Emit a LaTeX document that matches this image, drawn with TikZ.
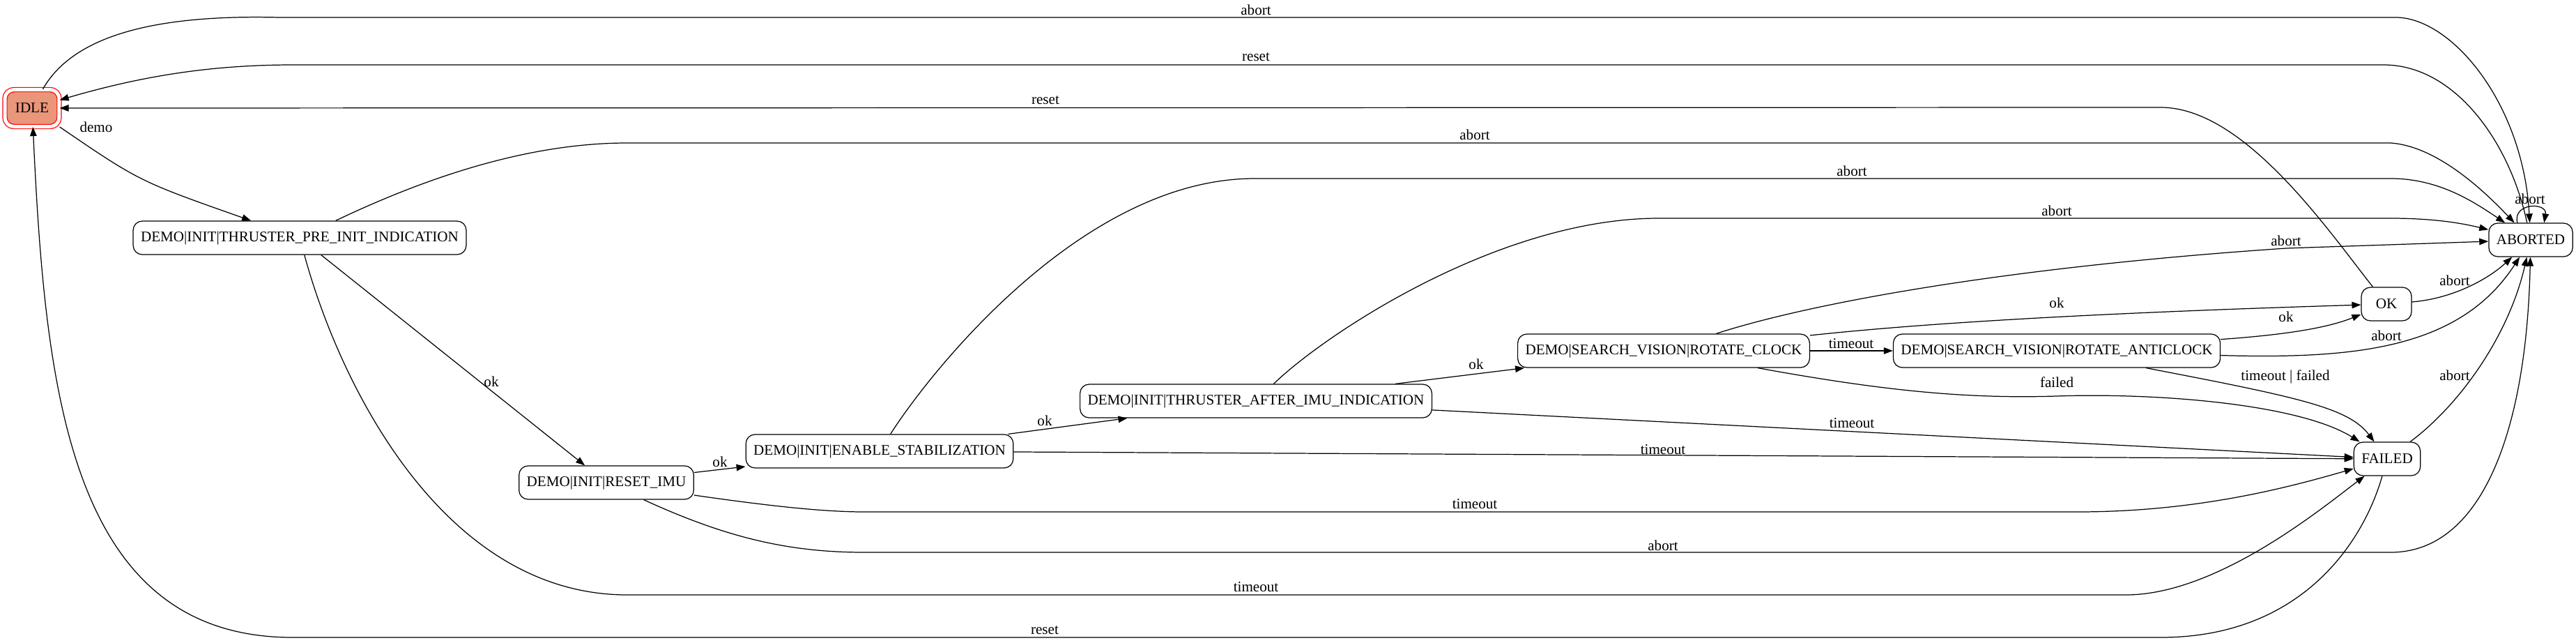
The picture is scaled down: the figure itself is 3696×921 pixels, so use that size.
\documentclass[tikz,border=0pt]{standalone}
\usepackage{fontspec}
\setmainfont{Liberation Serif}
\usepackage{tikz}
\usetikzlibrary{arrows.meta}

\definecolor{idlefill}{RGB}{233,150,122}

\begin{document}
\begin{tikzpicture}[x=0.02cm, y=-0.02cm,
  state/.style={draw, line width=0.7pt, rounded corners=0.26cm, minimum height=0.96cm,
    minimum width=1.44cm, inner xsep=0.22cm, font=\fontsize{12}{14}\selectfont},
  idlestate/.style={state, draw=red, double=white, double distance=0.1cm, fill=idlefill,
    minimum width=1.56cm, minimum height=1.06cm},
  edge/.style={-{Triangle[length=0.26cm,width=0.19cm]}, line width=0.7pt},
  lbl/.style={inner sep=0pt, font=\fontsize{12}{14}\selectfont}]
\useasboundingbox (0,0) rectangle (3696,921);

% states
\node[idlestate] (idle) at (46,155) {IDLE};
\node[state] (preinit) at (430,341) {DEMO|INIT|THRUSTER\_PRE\_INIT\_INDICATION};
\node[state] (resetimu) at (870,692) {DEMO|INIT|RESET\_IMU};
\node[state] (enablestab) at (1262,647) {DEMO|INIT|ENABLE\_STABILIZATION};
\node[state] (afterimu) at (1802,575) {DEMO|INIT|THRUSTER\_AFTER\_IMU\_INDICATION};
\node[state] (rotclock) at (2387,503) {DEMO|SEARCH\_VISION|ROTATE\_CLOCK};
\node[state] (rotanti) at (2951,503) {DEMO|SEARCH\_VISION|ROTATE\_ANTICLOCK};
\node[state] (ok) at (3424,436) {OK};
\node[state] (failed) at (3425,658) {FAILED};
\node[state] (aborted) at (3631,344) {ABORTED};

% long runs over the top
\draw[edge] (idle) .. controls (100,60) and (200,20) .. (400,25) -- (3440,25)
  .. controls (3520,28) and (3620,150) .. (aborted);
\node[lbl] (abortidle) at (1802,14) {abort};
\draw[edge] (aborted) .. controls (3600,200) and (3520,93) .. (3420,93) -- (420,93)
  .. controls (300,93) and (200,110) .. (idle);
\node[lbl] (resetaborted) at (1802,82) {reset};
\draw[edge] (ok) .. controls (3340,330) and (3220,154) .. (3100,154) -- (idle);
\node[lbl] (resetok) at (1500,144) {reset};
\draw[edge] (preinit) .. controls (600,260) and (750,205) .. (900,205) -- (3430,205)
  .. controls (3500,210) and (3570,280) .. (aborted);
\node[lbl] (abortpreinit) at (2116,193) {abort};
\draw[edge] (enablestab) .. controls (1330,540) and (1550,256) .. (1800,256) -- (3430,256)
  .. controls (3500,256) and (3550,290) .. (aborted);
\node[lbl] (abortenable) at (2657,245) {abort};
\draw[edge] (afterimu) .. controls (1900,480) and (2150,313) .. (2380,313) -- (3430,313)
  .. controls (3500,313) and (3540,322) .. (aborted);
\node[lbl] (abortafter) at (2951,302) {abort};
\draw[edge] (rotclock) .. controls (2580,440) and (2850,385) .. (3280,356) -- (aborted);
\node[lbl] (abortclock) at (3280,345) {abort};

% the init chain
\draw[edge] (idle) .. controls (200,260) .. (preinit);
\node[lbl] (demo) at (138,182) {demo};
\draw[edge] (preinit) -- (resetimu);
\node[lbl] (okpreinit) at (705,547) {ok};
\draw[edge] (resetimu) -- (enablestab);
\node[lbl] (okreset) at (1033,662) {ok};
\draw[edge] (enablestab) -- (afterimu);
\node[lbl] (okenable) at (1499,603) {ok};
\draw[edge] (afterimu) -- (rotclock);
\node[lbl] (okafter) at (2118,522) {ok};

% search vision
\draw[edge] (rotclock) -- (rotanti);
\node[lbl] (timeoutclock) at (2656,493) {timeout};
\draw[edge] (rotclock) .. controls (2700,470) and (2900,452) .. (ok);
\node[lbl] (okclock) at (2951,434) {ok};
\draw[edge] (rotanti) .. controls (3280,480) and (3340,470) .. (ok);
\node[lbl] (okanti) at (3280,454) {ok};
\draw[edge] (rotanti) .. controls (3380,515) and (3530,500) .. (aborted);
\node[lbl] (abortanti) at (3424,481) {abort};
\draw[edge] (ok) .. controls (3520,428) and (3570,400) .. (aborted);
\node[lbl] (abortok) at (3522,402) {abort};
\draw[edge] (rotclock) .. controls (2700,560) and (2820,572) .. (2950,568)
  .. controls (3100,563) and (3300,580) .. (failed);
\node[lbl] (failedclock) at (2951,548) {failed};
\draw[edge] (rotanti) .. controls (3300,570) and (3370,585) .. (failed);
\node[lbl] (timeoutanti) at (3279,540) {timeout | failed};

% timeouts into FAILED
\draw[edge] (afterimu) -- (failed);
\node[lbl] (timeoutafter) at (2657,607) {timeout};
\draw[edge] (enablestab) -- (failed);
\node[lbl] (timeoutenable) at (2386,645) {timeout};
\draw[edge] (resetimu) .. controls (1100,725) and (1180,734) .. (1240,734) -- (2980,734)
  .. controls (3150,734) and (3280,700) .. (failed);
\node[lbl] (timeoutreset) at (2116,723) {timeout};
\draw[edge] (preinit) .. controls (490,560) and (640,853) .. (900,853) -- (3050,853)
  .. controls (3180,853) and (3330,730) .. (failed);
\node[lbl] (timeoutpreinit) at (1802,842) {timeout};

% back from FAILED, and the rest into ABORTED
\draw[edge] (resetimu) .. controls (1040,770) and (1130,792) .. (1240,792) -- (3430,792)
  .. controls (3560,792) and (3625,620) .. (aborted);
\node[lbl] (abortreset) at (2386,782) {abort};
\draw[edge] (failed) .. controls (3530,580) and (3600,480) .. (aborted);
\node[lbl] (abortfailed) at (3522,538) {abort};
\draw[edge] (failed) .. controls (3390,780) and (3300,914) .. (3100,914) -- (420,914)
  .. controls (100,914) and (65,560) .. (idle);
\node[lbl] (resetfailed) at (1499,904) {reset};
\draw[edge] (aborted.128) .. controls (3605,290) and (3655,290) .. (aborted.52);
\node[lbl] (abortself) at (3630,285) {abort};
\end{tikzpicture}
\end{document}
